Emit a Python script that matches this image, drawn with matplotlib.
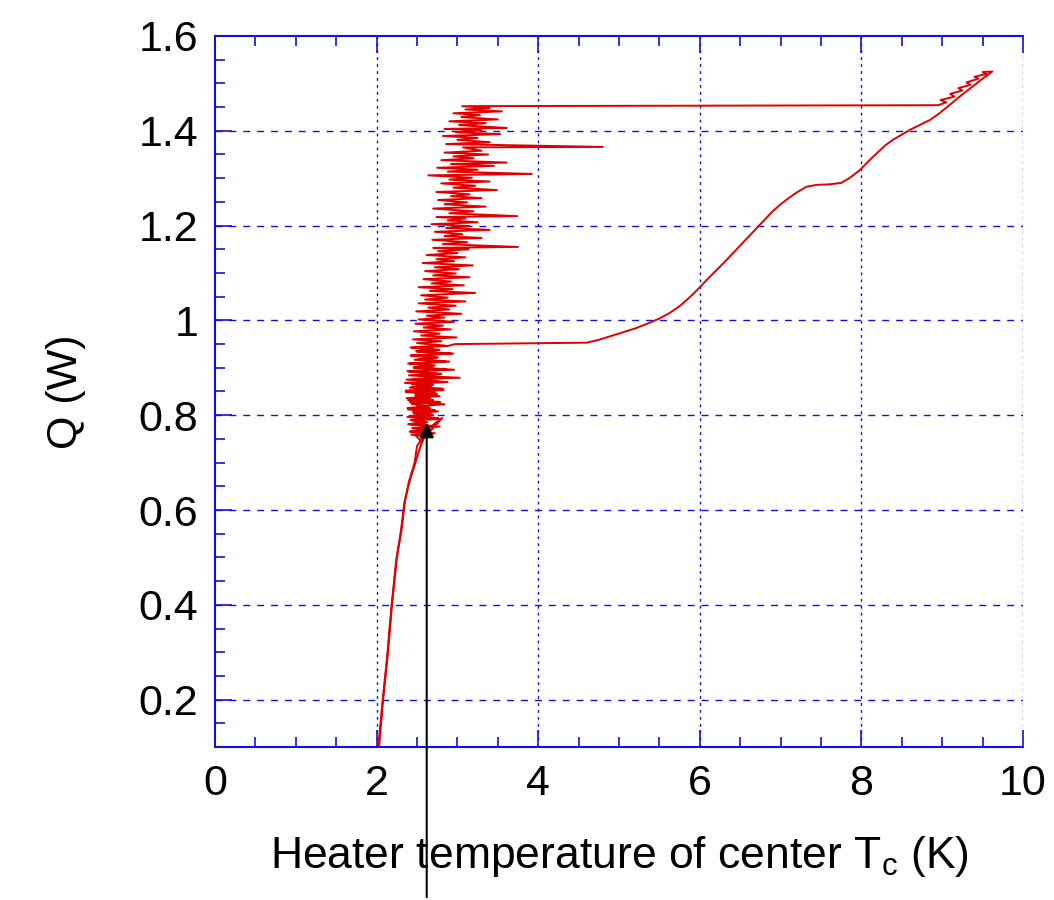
import numpy as np
import matplotlib
matplotlib.use("Agg")
import matplotlib.pyplot as plt
from matplotlib.ticker import MultipleLocator, FormatStrFormatter

plt.rcParams['font.family'] = ['Liberation Sans', 'DejaVu Sans']

# --- data --------------------------------------------------------
# smooth ramp going up (He II region)
ramp_T = [2.03, 2.08, 2.14, 2.19, 2.25, 2.31, 2.35, 2.41, 2.48, 2.54, 2.62, 2.81, 2.55]
ramp_Q = [0.10, 0.20, 0.30, 0.40, 0.50, 0.56, 0.62, 0.663, 0.70, 0.733, 0.769, 0.794, 0.745]

# noisy transition region (left / right excursions), going up
noise_T = [
    2.48, 2.72, 2.42, 2.66, 2.50, 2.78, 2.40, 2.62, 2.45, 2.80, 2.38, 2.70,
    2.46, 2.76, 2.39, 2.66, 2.50, 2.84, 2.41, 2.70, 2.37, 2.78, 2.48, 2.72,
    2.36, 2.82, 2.44, 2.70, 2.35, 2.76, 2.47, 3.03, 2.40, 2.74, 2.38, 2.86,
    2.46, 2.72, 2.41, 2.90, 2.52, 2.76, 2.43, 2.95, 2.49, 2.70, 2.42, 2.84,
    2.50, 2.80, 2.45, 2.99, 2.55, 2.78, 2.46, 2.92, 2.58, 2.82, 2.48, 2.96,
    2.52, 2.84, 2.62, 3.05, 2.49, 2.90, 2.64, 2.98, 2.52, 3.10, 2.60, 2.88,
    2.55, 3.22, 2.66, 2.94, 2.52, 3.08, 2.68, 2.92, 2.58, 3.15, 2.70, 2.98,
    2.60, 3.02, 2.72, 3.19, 2.57, 2.96, 2.74, 3.10, 2.62, 3.00, 2.76, 3.14,
    2.70, 3.75, 2.82, 3.12, 2.69, 3.30, 2.84, 3.06, 2.72, 3.40, 2.86, 3.15,
    2.68, 3.25, 2.88, 3.10, 2.74, 3.74, 2.90, 3.20, 2.70, 3.35, 2.84, 3.12,
    2.76, 3.30, 2.92, 3.15, 2.74, 3.49, 2.95, 3.22, 2.80, 3.40, 2.90, 3.18,
    2.64, 3.92, 2.88, 3.25, 2.75, 3.45, 2.92, 3.61, 2.80, 3.20, 2.95, 3.38,
    2.84, 3.30, 3.07, 4.80, 2.86, 3.40, 3.00, 3.25, 2.82, 3.53, 2.98, 3.30,
    2.84, 3.61, 3.02, 3.35, 2.90, 3.50, 3.05, 3.28, 2.95, 3.55, 3.10, 3.40,
    3.06,
]
noise_Q = [
    0.758, 0.762, 0.766, 0.770, 0.772, 0.776, 0.781, 0.785, 0.789, 0.792, 0.796, 0.800,
    0.804, 0.808, 0.812, 0.815, 0.819, 0.823, 0.828, 0.832, 0.836, 0.840, 0.845, 0.848,
    0.852, 0.856, 0.860, 0.864, 0.868, 0.872, 0.876, 0.879, 0.884, 0.888, 0.893, 0.897,
    0.901, 0.905, 0.909, 0.913, 0.918, 0.922, 0.926, 0.930, 0.935, 0.939, 0.943, 0.947,
    0.952, 0.956, 0.960, 0.964, 0.968, 0.972, 0.977, 0.981, 0.985, 0.989, 0.993, 0.997,
    1.002, 1.006, 1.010, 1.014, 1.019, 1.023, 1.027, 1.031, 1.036, 1.040, 1.044, 1.048,
    1.053, 1.058, 1.062, 1.066, 1.070, 1.074, 1.078, 1.082, 1.087, 1.091, 1.095, 1.099,
    1.104, 1.108, 1.112, 1.116, 1.121, 1.125, 1.129, 1.133, 1.138, 1.142, 1.146, 1.150,
    1.153, 1.155, 1.161, 1.165, 1.170, 1.174, 1.178, 1.182, 1.187, 1.191, 1.195, 1.199,
    1.203, 1.207, 1.211, 1.215, 1.218, 1.220, 1.226, 1.230, 1.236, 1.240, 1.245, 1.249,
    1.254, 1.258, 1.262, 1.266, 1.271, 1.275, 1.280, 1.284, 1.289, 1.293, 1.297, 1.301,
    1.306, 1.309, 1.314, 1.318, 1.322, 1.326, 1.330, 1.333, 1.338, 1.342, 1.346, 1.350,
    1.354, 1.358, 1.365, 1.366, 1.372, 1.376, 1.381, 1.385, 1.389, 1.393, 1.397, 1.401,
    1.404, 1.406, 1.412, 1.416, 1.420, 1.424, 1.429, 1.433, 1.437, 1.441, 1.445, 1.448,
    1.452,
]

# film boiling branch: jump up, then decreasing heat back to the noisy region
film_T = [8.95, 9.05, 8.98, 9.15, 9.10, 9.25, 9.20, 9.35, 9.30, 9.45, 9.40, 9.55, 9.50, 9.62,
          9.50, 9.35, 9.20, 9.06, 8.95, 8.85, 8.72, 8.60, 8.50, 8.39, 8.30, 8.23, 8.10,
          7.98, 7.85, 7.75, 7.60, 7.45, 7.32, 7.20, 7.10, 7.00, 6.90, 6.80, 6.70, 6.60,
          6.50, 6.40, 6.30, 6.20, 6.10, 6.00, 5.92, 5.85, 5.75, 5.62, 5.50, 5.35, 5.20,
          5.05, 4.90, 4.75, 4.60, 2.97]
film_Q = [1.454, 1.460, 1.465, 1.472, 1.478, 1.485, 1.490, 1.497, 1.502, 1.510, 1.514, 1.520, 1.524, 1.525,
          1.510, 1.490, 1.470, 1.450, 1.435, 1.423, 1.412, 1.402, 1.392, 1.381, 1.370, 1.359, 1.338,
          1.317, 1.300, 1.290, 1.287, 1.286, 1.282, 1.270, 1.258, 1.245, 1.230, 1.212, 1.194, 1.176,
          1.158, 1.140, 1.122, 1.105, 1.088, 1.070, 1.056, 1.045, 1.030, 1.015, 1.004, 0.993, 0.983,
          0.975, 0.967, 0.959, 0.953, 0.950]

# noisy region again on the way down, then back down the ramp
ret_T = [2.88, 2.44, 2.78, 2.50, 2.92, 2.42, 2.74, 2.47, 2.85, 2.39, 2.70, 2.46,
         2.96, 2.40, 2.80, 2.52, 2.72, 2.37, 2.88, 2.44, 2.68, 2.41, 2.83, 2.36,
         2.75, 2.48, 2.66, 2.39, 2.79, 2.43, 2.64, 2.38, 2.72, 2.45, 2.68, 2.40,
         2.76, 2.42, 2.62, 2.39, 2.70, 2.44, 2.60, 2.41, 2.66, 2.43, 2.58, 2.50,
         2.47, 2.40, 2.34, 2.30, 2.24, 2.18, 2.13, 2.07, 2.02]
ret_Q = [0.946, 0.942, 0.938, 0.934, 0.930, 0.926, 0.921, 0.917, 0.913, 0.909, 0.904, 0.900,
         0.896, 0.892, 0.887, 0.883, 0.879, 0.875, 0.870, 0.866, 0.862, 0.858, 0.853, 0.849,
         0.845, 0.841, 0.836, 0.832, 0.828, 0.824, 0.819, 0.815, 0.811, 0.807, 0.802, 0.798,
         0.794, 0.790, 0.785, 0.781, 0.777, 0.773, 0.769, 0.765, 0.762, 0.759, 0.756, 0.735,
         0.70, 0.66, 0.61, 0.555, 0.49, 0.39, 0.29, 0.19, 0.10]

arrow_T = 2.62
arrow_Q = 0.79

x_ticks = [0, 2, 4, 6, 8, 10]
y_ticks = [0.2, 0.4, 0.6, 0.8, 1.0, 1.2, 1.4, 1.6]

# --- figure ----------------------------------------------------------
fig = plt.figure(figsize=(10.54, 9.0), dpi=100)
ax = fig.add_axes([0.204, 0.17, 0.7666, 0.79])

red = '#e00000'
ax.plot(ramp_T, ramp_Q, color=red, lw=1.5)
ax.plot([ramp_T[-1]] + noise_T + film_T + ret_T,
        [ramp_Q[-1]] + noise_Q + film_Q + ret_Q, color=red, lw=1.4)

ax.set_xlim(0, 10)
ax.set_ylim(0.1, 1.6)

blue = '#1010e0'
for xv in [2, 4, 6, 8, 10]:
    ax.axvline(xv, color=blue, lw=1.0, linestyle=(0, (2, 3)), zorder=0)
for yv in y_ticks[:-1]:
    ax.axhline(yv, color=blue, lw=1.0, linestyle=(0, (5, 5)), zorder=0)

ax.spines['right'].set_visible(False)
for s in ['left', 'bottom', 'top']:
    ax.spines[s].set_color(blue)
    ax.spines[s].set_linewidth(1.5)

ax.set_xticks(x_ticks)
ax.set_yticks(y_ticks)
ax.xaxis.set_minor_locator(MultipleLocator(0.5))
ax.yaxis.set_minor_locator(MultipleLocator(0.05))
ax.yaxis.set_major_formatter(FormatStrFormatter('%g'))
ax.tick_params(which='both', direction='in', color=blue, top=True, right=False,
               labelsize=31, width=1.2)
ax.tick_params(which='major', length=12, pad=12)
ax.tick_params(which='minor', length=7)

ax.set_xlabel('Heater temperature of center T$_\\mathregular{c}$ (K)', fontsize=32, labelpad=22)
ax.set_ylabel('Q (W)', fontsize=31, labelpad=38)

ax.annotate('', xy=(arrow_T, arrow_Q), xytext=(arrow_T, 0.0),
            xycoords='data', textcoords=('data', 'figure fraction'),
            arrowprops=dict(arrowstyle='-|>', color='k', lw=1.5, mutation_scale=22),
            annotation_clip=False)

fig.savefig('out.png', dpi=100)
